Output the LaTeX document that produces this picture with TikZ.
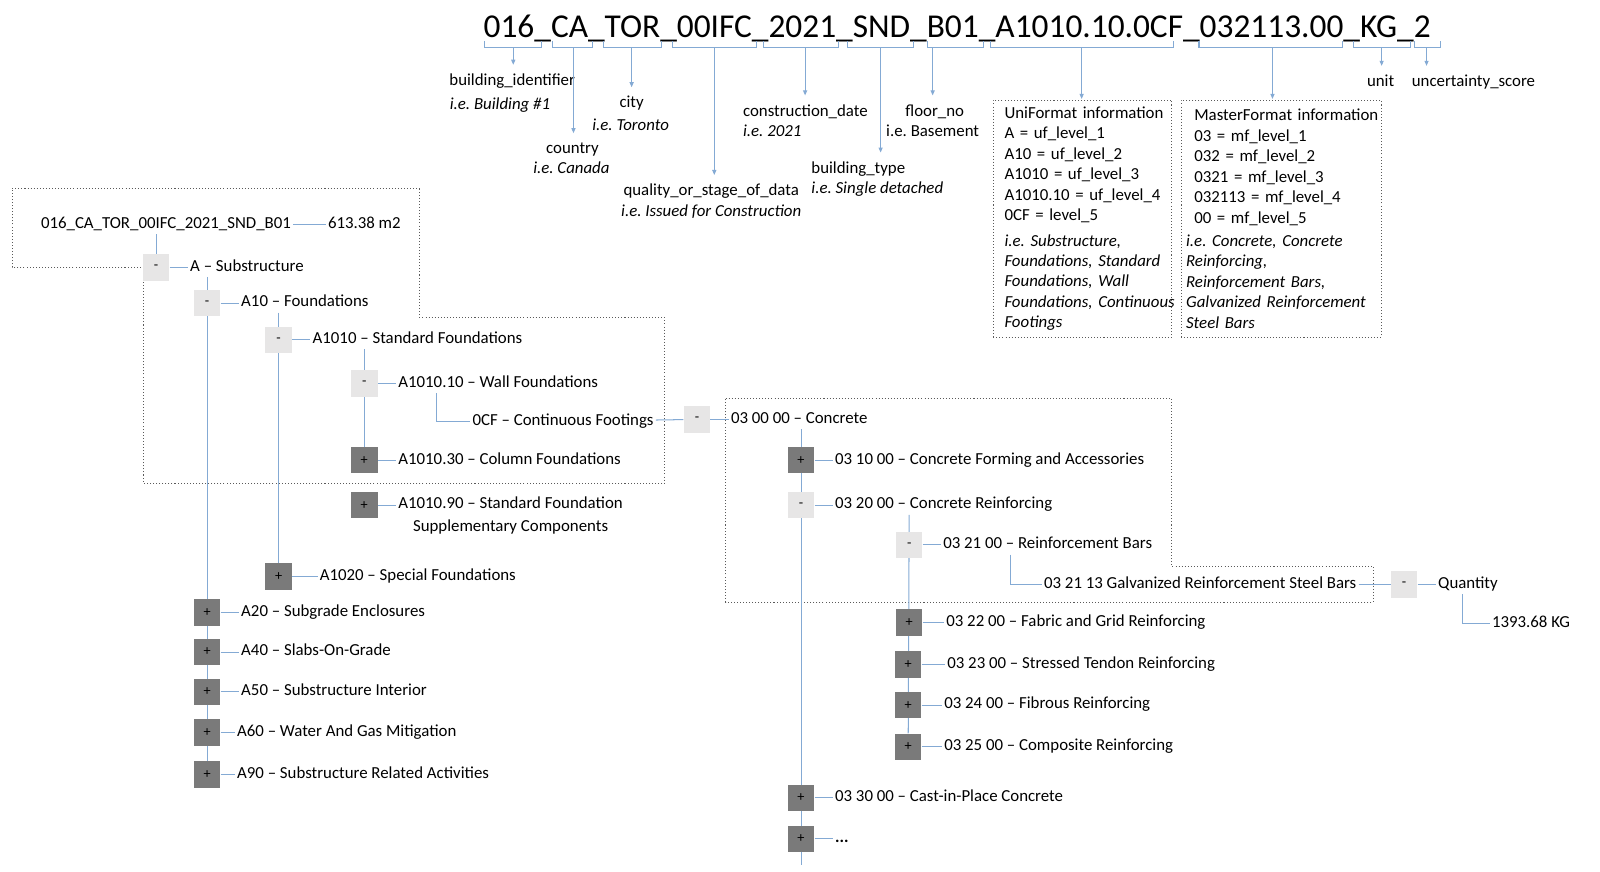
\documentclass[tikz,border=0pt]{standalone}
\usepackage{fontspec}
\setmainfont{Carlito}
\usetikzlibrary{arrows.meta, positioning, backgrounds}

\definecolor{lnblue}{RGB}{132,170,212}
\definecolor{boxlt}{RGB}{231,230,230}
\definecolor{boxdk}{RGB}{122,122,122}
\definecolor{dotgray}{RGB}{90,90,90}

\begin{document}
\begin{tikzpicture}[
  x=1pt, y=-1pt,
  node distance=18pt,
  lbl/.style={font=\fontsize{16.5}{20}\selectfont\frenchspacing, inner sep=2pt,
              text height=11pt, text depth=3.5pt},
  ex/.style={lbl, font=\fontsize{16.5}{20}\selectfont\frenchspacing\itshape},
  expbox/.style={rectangle, fill=boxlt, minimum size=26pt, inner sep=0pt,
                 font=\fontsize{14}{14}\selectfont},
  colbox/.style={expbox, fill=boxdk},
  tree/.style={draw=lnblue, line width=1pt},
  brk/.style={draw=lnblue, line width=1pt},
  arr/.style={brk, -{Triangle[length=5pt, width=4pt]}, shorten >=7pt},
  dotbox/.style={draw=dotgray, line width=0.8pt, dash pattern=on 1pt off 2pt},
  infobox/.style={dotbox, rectangle, anchor=north west, minimum height=232pt,
                  align=left, font=\fontsize{16.5}{20}\selectfont\frenchspacing}
]
\useasboundingbox (0,0) rectangle (1568,854);

% file name and its parts
\node[font=\fontsize{32.7}{36}\selectfont, inner sep=0pt, anchor=base] (code) at (938,37)
  {016\_CA\_TOR\_00IFC\_2021\_SND\_B01\_A1010.10.0CF\_032113.00\_KG\_2};

\draw[brk] (475,40) |- (503,47) coordinate (b1) -| (531,40);
\draw[brk] (541,40) |- (562,47) coordinate (b2) -| (581,40);
\draw[brk] (591,40) |- (619,47) coordinate (b3) -| (648,40);
\draw[brk] (659,40) |- (700,47) coordinate (b4) -| (741,40);
\draw[brk] (748,40) |- (789,47) coordinate (b5) -| (822,40);
\draw[brk] (831,40) |- (863,47) coordinate (b6) -| (895,40);
\draw[brk] (909,40) |- (914,47) coordinate (b7) -| (964,40);
\draw[brk] (971,40) |- (1060,47) coordinate (b8) -| (1150,40);
\draw[brk] (1175,40) |- (1247,47) coordinate (b9) -| (1316,40);
\draw[brk] (1326,40) |- (1354,47) coordinate (b10) -| (1382,40);
\draw[brk] (1386,40) |- (1398,47) coordinate (b11) -| (1412,40);

\node[lbl] (bid)    at (502,80)  {building\_identifier};
\node[ex]  (bidx)   at (490,104) {i.e. Building \#1};
\node[lbl] (cty)    at (561,147) {country};
\node[ex]  (ctyx)   at (560,166) {i.e. Canada};
\node[lbl] (city)   at (619,102) {city};
\node[ex]  (cityx)  at (618,124) {i.e. Toronto};
\node[lbl] (qual)   at (697,188) {quality\_or\_stage\_of\_data};
\node[ex]  (qualx)  at (697,208) {i.e. Issued for Construction};
\node[lbl, anchor=west] (cdate)  at (726,110) {construction\_date};
\node[ex, anchor=west]  (cdatex) at (726,130) {i.e. 2021};
\node[lbl, anchor=west] (btype)  at (793,166) {building\_type};
\node[ex, anchor=west]  (btypex) at (793,186) {i.e. Single detached};
\node[lbl] (floor)  at (916,110) {floor\_no};
\node[lbl] (floorx) at (914,130) {i.e. Basement};
\node[lbl] (unit)   at (1353,81) {unit};
\node[lbl] (unc)    at (1444,81) {uncertainty\_score};

\node[infobox, inner xsep=11pt, inner ysep=6pt, text width=153pt] (uf) at (973,98)
  {\mbox{UniFormat information}\\
   A = uf\_level\_1\\
   A10 = uf\_level\_2\\
   A1010 = uf\_level\_3\\
   A1010.10 = uf\_level\_4\\
   0CF = level\_5\\[5pt]
   \itshape i.e. Substructure,\\
   \itshape Foundations, Standard\\
   \itshape Foundations, Wall\\
   \itshape \mbox{Foundations, Continuous}\\
   \itshape Footings};
\node[infobox, inner xsep=5pt, inner ysep=6pt, text width=186pt] (mf) at (1157,98)
  {\hspace*{8pt}\mbox{MasterFormat information}\\
   \hspace*{8pt}03 = mf\_level\_1\\
   \hspace*{8pt}032 = mf\_level\_2\\
   \hspace*{8pt}0321 = mf\_level\_3\\
   \hspace*{8pt}032113 = mf\_level\_4\\
   \hspace*{8pt}00 = mf\_level\_5\\[3pt]
   \itshape i.e. Concrete, Concrete\\
   \itshape Reinforcing,\\
   \itshape Reinforcement Bars,\\
   \itshape Galvanized Reinforcement\\
   \itshape Steel Bars};

\draw[arr] (b1) -- (b1 |- bid.north);
\draw[arr] (b2) -- (b2 |- cty.north);
\draw[arr] (b3) -- (b3 |- city.north);
\draw[arr] (b4) -- (b4 |- qual.north);
\draw[arr] (b5) -- (b5 |- cdate.north);
\draw[arr] (b6) -- (b6 |- btype.north);
\draw[arr] (b7) -- (b7 |- floor.north);
\draw[arr, shorten >=1pt] (b8) -- (b8 |- uf.north);
\draw[arr, shorten >=1pt] (b9) -- (b9 |- mf.north);
\draw[arr] (b10) -- (b10 |- unit.north);
\draw[arr] (b11) -- (b11 |- unc.north);

% UniFormat tree
\node[lbl, anchor=west] (root) at (38,220) {016\_CA\_TOR\_00IFC\_2021\_SND\_B01};
\node[lbl, right=32pt of root] (area) {613.38 m2};

\node[expbox] (bA) at (153,262) {-};
\node[lbl, right=of bA] (lA) {A -- Substructure};
\node[expbox] (bA10) at (203,297) {-};
\node[lbl, right=of bA10] (lA10) {A10 -- Foundations};
\node[expbox] (bA1010) at (273,333) {-};
\node[lbl, right=of bA1010] (lA1010) {A1010 -- Standard Foundations};
\node[expbox] (bWall) at (357,376) {-};
\node[lbl, right=of bWall] (lWall) {A1010.10 -- Wall Foundations};
\node[lbl, anchor=west] (lCF) at (461,413) {0CF -- Continuous Footings};
\node[colbox] (bCol) at (357,451) {+};
\node[lbl, right=of bCol] (lCol) {A1010.30 -- Column Foundations};
\node[colbox] (bSup) at (357,495) {+};
\node[lbl, right=of bSup] (lSup) {A1010.90 -- Standard Foundation};
\node[lbl, below=3.5pt of lSup] (lSup2) {Supplementary Components};
\node[colbox] (bSpec) at (273,565) {+};
\node[lbl, right=25pt of bSpec] (lSpec) {A1020 -- Special Foundations};
\node[colbox] (bA20) at (203,600) {+};
\node[lbl, right=of bA20] (lA20) {A20 -- Subgrade Enclosures};
\node[colbox] (bA40) at (203,639) {+};
\node[lbl, right=of bA40] (lA40) {A40 -- Slabs-On-Grade};
\node[colbox] (bA50) at (203,678) {+};
\node[lbl, right=of bA50] (lA50) {A50 -- Substructure Interior};
\node[colbox] (bA60) at (203,718) {+};
\node[lbl, right=14pt of bA60] (lA60) {A60 -- Water And Gas Mitigation};
\node[colbox] (bA90) at (203,759) {+};
\node[lbl, right=14pt of bA90] (lA90) {A90 -- Substructure Related Activities};

% MasterFormat tree
\node[expbox] (bConc) at (683,411) {-};
\node[lbl, right=of bConc] (lConc) {03 00 00 -- Concrete};
\node[colbox] (bC10) at (785,451) {+};
\node[lbl, right=of bC10] (lC10) {03 10 00 -- Concrete Forming and Accessories};
\node[expbox] (bC20) at (785,495) {-};
\node[lbl, right=of bC20] (lC20) {03 20 00 -- Concrete Reinforcing};
\node[expbox] (bC21) at (891,534) {-};
\node[lbl, right=of bC21] (lC21) {03 21 00 -- Reinforcement Bars};
\node[lbl, anchor=west] (lGalv) at (1021,573) {03 21 13 Galvanized Reinforcement Steel Bars};
\node[expbox] (bQty) at (1376,573) {-};
\node[lbl, right=of bQty] (lQty) {Quantity};
\node[lbl, anchor=west] (lKg) at (1460,611) {1393.68 KG};
\node[colbox] (bC22) at (891,610) {+};
\node[lbl, right=21pt of bC22] (lC22) {03 22 00 -- Fabric and Grid Reinforcing};
\node[colbox] (bC23) at (890,651) {+};
\node[lbl, right=23pt of bC23] (lC23) {03 23 00 -- Stressed Tendon Reinforcing};
\node[colbox] (bC24) at (890,691) {+};
\node[lbl, right=20pt of bC24] (lC24) {03 24 00 -- Fibrous Reinforcing};
\node[colbox] (bC25) at (890,732) {+};
\node[lbl, right=20pt of bC25] (lC25) {03 25 00 -- Composite Reinforcing};
\node[colbox] (bC30) at (785,782) {+};
\node[lbl, right=of bC30] (lC30) {03 30 00 -- Cast-in-Place Concrete};
\node[colbox] (bMore) at (785,822) {+};
\node[lbl, right=of bMore] (lMore) {\textbf{...}};
\coordinate (cEnd) at (785,848);

\begin{scope}[on background layer]
  % selection frames
  \draw[dotbox] (12,185) -- (411,185) -- (411,311) -- (651,311) -- (651,474)
    -- (141,474) -- (141,262) -- (12,262) -- cycle;
  \draw[dotbox] (711,390) -- (1148,390) -- (1148,555) -- (1346,555)
    -- (1346,590) -- (711,590) -- cycle;

  \draw[tree] (root) -- (area);
  \draw[tree] (bA |- root.south) -- (bA);
  \draw[tree] (bA10 |- lA.south) -- (bA90);
  \draw[tree] (bA1010 |- lA10.south) -- (bSpec);
  \draw[tree] (bWall |- lA1010.south) -- (bCol);
  \draw[tree] ([xshift=40pt]lWall.south west) |- (lCF);
  \draw[tree] (lCF) -- (bConc);
  \draw[tree] (bC10 |- lConc.south) -- (cEnd);
  \draw[tree] (bC21 |- lC20.south) -- (bC25);
  \draw[tree] ([xshift=68pt]lC21.south west) |- (lGalv);
  \draw[tree] (lGalv) -- (bQty);
  \draw[tree] ([xshift=26pt]lQty.south west) |- (lKg);

  \draw[tree] (bA) -- (lA);
  \draw[tree] (bA10) -- (lA10);
  \draw[tree] (bA1010) -- (lA1010);
  \draw[tree] (bWall) -- (lWall);
  \draw[tree] (bCol) -- (lCol);
  \draw[tree] (bSup) -- (lSup);
  \draw[tree] (bSpec) -- (lSpec);
  \draw[tree] (bA20) -- (lA20);
  \draw[tree] (bA40) -- (lA40);
  \draw[tree] (bA50) -- (lA50);
  \draw[tree] (bA60) -- (lA60);
  \draw[tree] (bA90) -- (lA90);
  \draw[tree] (bConc) -- (lConc);
  \draw[tree] (bC10) -- (lC10);
  \draw[tree] (bC20) -- (lC20);
  \draw[tree] (bC21) -- (lC21);
  \draw[tree] (bQty) -- (lQty);
  \draw[tree] (bC22) -- (lC22);
  \draw[tree] (bC23) -- (lC23);
  \draw[tree] (bC24) -- (lC24);
  \draw[tree] (bC25) -- (lC25);
  \draw[tree] (bC30) -- (lC30);
  \draw[tree] (bMore) -- (lMore);
\end{scope}

\end{tikzpicture}
\end{document}
